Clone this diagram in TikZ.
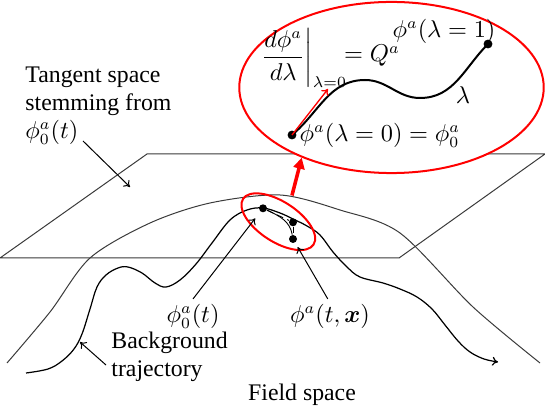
\documentclass[tikz,border=0pt]{standalone}
\usepackage{tikz}
\usepackage{xcolor}
\usepackage{amsmath}
\usepackage{fontspec}
\setmainfont{Liberation Serif}
\usetikzlibrary{
    positioning,
    calc,
    shapes.geometric,
    arrows.meta
}
\definecolor{VermelhoVivo}{HTML}{FF0000}
\definecolor{CinzaLinha}{HTML}{3A3A3A}

\tikzset{
    ponto/.style={
        circle,
        fill=black,
        inner sep=0pt,
        minimum size=3.6pt
    },
    seta/.style={
        line width=0.45pt,
        -{To[length=2.6pt,width=4pt]}
    },
    contorno/.style={
        draw=VermelhoVivo,
        ellipse,
        line width=0.9pt,
        inner sep=0pt
    }
}

\begin{document}
\begin{tikzpicture}[
    x=0.45pt,
    y=0.45pt,
    font=\fontsize{10.7pt}{12.6pt}\selectfont
]
                \useasboundingbox (0,0) rectangle (545,409);

                \draw[CinzaLinha, line width=0.45pt]
                    (0,151) -- (147,255) -- (545,255) -- (399,151) -- cycle;

                \draw[CinzaLinha, line width=0.45pt]
                    plot[smooth] coordinates {
                        (7,46) (50,97) (90,151) (150,186) (210,206)
                        (280,214) (340,199) (400,176) (473,102) (540,46)
                    };

                \draw[line width=0.55pt, -{To[length=2.6pt,width=4pt]}]
                    plot[smooth, tension=0.6] coordinates {
                        (26,36) (48,40) (62,48) (74,60) (82,75) (90,100)
                        (97,122) (106,134) (118,141) (128,142) (142,136)
                        (155,126) (166,122) (180,129) (196,145) (212,166)
                        (230,189) (247,199) (263,201) (280,196) (293,190)
                        (307,183) (320,174) (333,157) (347,142) (360,132)
                        (383,126) (400,120) (417,112) (432,100) (445,84)
                        (458,68) (470,57) (484,50) (498,47)
                    };

                \node[contorno, minimum width=37.8pt, minimum height=18pt, rotate=-33]
                    (Pequena) at (278.3,187.3) {};

                \node[ponto] (PhiZero) at (263,200.7) {};
                \node[ponto] (PhiDois) at (293,186.7) {};
                \node[ponto] (PhiTres) at (293,170) {};

                \draw[densely dashed, line width=0.4pt] (PhiZero) -- (PhiDois);
                \draw[densely dashed, line width=0.4pt] (PhiDois) -- (PhiTres);
                \draw[line width=0.4pt] (PhiZero) to[out=-25,in=100] (PhiTres);

                \node[contorno, fill=white, minimum width=137pt, minimum height=77pt]
                    (Ampliada) at (391.5,321.5) {};

                \draw[VermelhoVivo, line width=1.6pt, shorten <=4pt,
                      -{Triangle[length=5pt,width=5pt]}]
                    (Pequena.north) -- (Ampliada.218);

                \node[ponto, minimum size=4pt] (LambdaZero) at (292,274) {};
                \node[ponto, minimum size=4pt] (LambdaUm) at (488,365) {};
                \coordinate (DirecaoQ) at (328,320);

                \draw[line width=0.9pt]
                    (LambdaZero.center) to[out=40,in=180] (365,329)
                    to[out=0,in=180] (420,311)
                    to[out=0,in=225] (LambdaUm.center);

                \draw[VermelhoVivo, line width=0.6pt, -{To[length=2.6pt,width=4pt]}]
                    (LambdaZero.center) -- (DirecaoQ);

                \node (Derivada) at (303,351)
                    {$\left.\dfrac{d\phi^a}{d\lambda}\right|_{\lambda=0}$};
                \node (IgualQ) at (372,353) {$=Q^a$};
                \node (RotuloUm) at (444,378) {$\phi^a(\lambda=1)$};
                \node (RotuloLambda) at (463,314) {$\lambda$};
                \node[right=0pt of LambdaZero, inner sep=1pt]
                    (RotuloZero) {$\phi^a(\lambda=0)=\phi_0^a$};

                \node[
                    align=left,
                    anchor=north west,
                    inner sep=0pt
                ] (Tangente) at (25,343) {
                    Tangent space\\
                    stemming from\\
                    $\phi_0^a(t)$
                };
                \coordinate (CaudaPlano) at (83,268);
                \coordinate (PontaPlano) at (130,222);
                \draw[seta] (CaudaPlano) -- (PontaPlano);

                \node[inner sep=2pt] (RotuloFundo) at (193,93) {$\phi_0^a(t)$};
                \draw[seta, shorten >=5.7pt] (RotuloFundo.north) -- (PhiZero.center);

                \node[inner sep=2pt] (RotuloCampo) at (330,93) {$\phi^a(t,\boldsymbol{x})$};
                \draw[seta, shorten >=4.2pt] ([xshift=-1pt]RotuloCampo.north) -- (PhiTres.center);

                \node[
                    align=left,
                    anchor=west,
                    inner sep=0pt
                ] (RotuloTrajetoria) at (111,52) {
                    Background\\
                    trajectory
                };
                \coordinate (CaudaTrajetoria) at (106,44);
                \coordinate (PontaTrajetoria) at (80,67);
                \draw[seta] (CaudaTrajetoria) -- (PontaTrajetoria);

                \node (RotuloEspaco) at (302,14) {Field space};
            \end{tikzpicture}
\end{document}
